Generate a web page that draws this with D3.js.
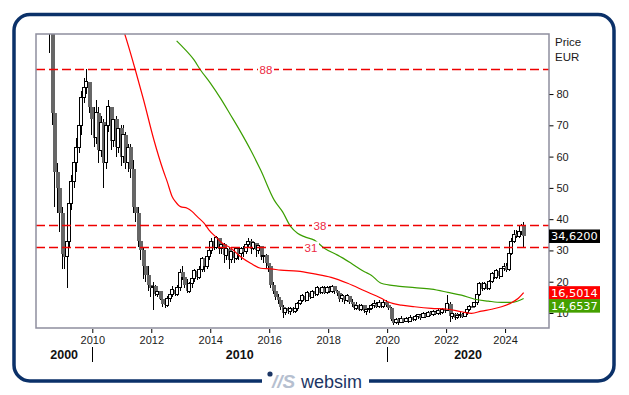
<!DOCTYPE html>
<html>
<head>
<meta charset="utf-8">
<script src="https://cdn.jsdelivr.net/npm/d3@7"></script>
<style>
body { margin: 0; background: #fff; }
svg { font-family: "Liberation Sans", Arial, sans-serif; }
</style>
</head>
<body>
<svg id="chart" width="629" height="395"></svg>
<script>
//monthly candles, first one is July 2008
var startYear = 2008, startMonth = 7;
var firstOpen = 112;

var closes = [
	103, 74, 55, 50, 42, 29,
	28, 33, 45, 52, 58, 63, 70, 79, 82, 84, 76, 72,
	66, 74, 62, 71, 58, 70, 76, 65, 72, 63, 69, 60,
	67, 58, 63, 56, 44, 42, 33, 30, 25, 22, 19, 18,
	18.5, 16, 17, 14.5, 13, 12.5, 14.5, 16, 17.5, 16, 18, 23,
	21.5, 19, 17, 19.5, 21, 23.5, 21.5, 24, 27.5, 25, 28, 30,
	33, 31, 34, 30.5, 32, 28.5, 30.5, 27, 29.5, 27.5, 30.5, 29,
	30.5, 29.5, 32, 33, 30.5, 32.5, 30, 31.5, 28, 28.5, 26, 25,
	19, 17, 15, 14, 12, 10, 11.5, 10.5, 11.5, 10.5, 11.5, 13,
	14, 15.5, 14, 16.5, 15, 17, 16, 18, 16.5, 18, 16.5, 18,
	17, 18.5, 17, 16.5, 14.5, 15.5, 14, 15.5, 13.5, 13, 11.5, 12.5,
	11, 12.5, 10.5, 11, 11.5, 12.5, 13, 12, 13.5, 12, 13.5, 12.5,
	11.5, 8, 6.8, 8, 7, 8.3, 7.2, 8.2, 7.4, 8.7, 7.8, 8.8,
	9.4, 8.4, 9.8, 8.8, 10.2, 9.4, 10.4, 9.8, 10.8, 10, 11.2, 10.8,
	13, 9, 9.8, 8.4, 9.3, 9.6, 8.8, 10, 11, 12.2, 12, 13.2,
	16, 19.5, 17.8, 19.4, 17.8, 20.2, 22.5, 21.5, 23.5, 21.8, 24.2, 25,
	23.8, 29, 33, 35.2, 34.5, 36, 38, 34.62
];
var highs = [
	118, 104, 76, 58, 52, 44,
	34, 36, 47, 54, 60, 66, 72, 81, 85, 88, 84, 79,
	76, 78, 76, 73, 72, 72, 78, 76, 75, 73, 72, 70,
	70, 68, 64, 64, 59, 47, 44, 35, 31, 28, 25, 21,
	20, 19, 18, 17, 16, 14, 15.5, 17, 18.5, 18, 19, 24,
	25, 23, 21, 20, 22, 24, 24, 25, 28, 27.5, 29, 31,
	34, 34, 34.5, 34, 33, 32.5, 31, 31, 30, 30, 31, 31,
	31, 31.5, 33, 34, 33.5, 33, 32.5, 32, 31.5, 30, 29, 27,
	25.5, 20, 18, 16, 15, 12.5, 12, 12, 12, 12, 12, 13.5,
	14.5, 16, 15.5, 17, 16.5, 17.5, 17.5, 18.5, 18, 18.5, 18.5, 18.5,
	18.5, 18.8, 18.5, 17.5, 17, 16, 15.5, 16, 15.5, 14.5, 13.5, 13.5,
	13, 13, 12.5, 11.5, 12, 13, 14, 13.5, 14, 13.5, 14, 14,
	13, 12, 8.5, 8.5, 8.5, 9, 8.5, 8.7, 8.5, 9.2, 9, 9.3,
	9.8, 9.6, 10.2, 10, 10.6, 10.5, 10.8, 10.6, 11.2, 11, 11.6, 11.5,
	15.7, 13.5, 10.5, 10, 10, 10.2, 10, 10.5, 11.5, 12.6, 13, 13.6,
	16.5, 20, 20, 19.8, 19.5, 20.5, 23, 23.5, 24, 24, 24.5, 26,
	26, 29.5, 34, 36.5, 36.5, 37.5, 38.5, 39
];
var lows = [
	93, 70, 44, 42, 36, 24,
	24, 18, 31, 43, 50, 55, 61, 67, 77, 80, 74, 67,
	63, 64, 58, 60, 50, 56, 68, 62, 63, 60, 61, 57,
	58, 56, 55, 53, 42, 39, 31, 27, 21, 20, 17, 15,
	11, 15.5, 15, 14, 12, 11.5, 12, 13.5, 15, 15.5, 15.5, 17,
	20.5, 18, 16.5, 16.5, 18, 20, 20.5, 21, 23, 23, 24, 27,
	29, 30, 30.5, 29, 29, 26, 27, 24, 26, 26, 27, 27,
	27, 28, 29, 31, 29, 30, 28, 29, 27, 26, 24.5, 23,
	18, 16, 14, 13, 11, 8.4, 9.5, 9.8, 9.5, 10, 10, 10.5,
	12.5, 13.5, 13.5, 14, 14.5, 15, 15.5, 15.5, 16, 16, 16, 16,
	16.5, 16.5, 16, 15.5, 13.5, 13.5, 13, 13.5, 13, 12, 11, 11,
	10.5, 10.5, 10, 9.3, 10, 11, 11.5, 11.5, 11.5, 11.5, 11.5, 12,
	11, 7.5, 6, 6.5, 6.3, 6.8, 6.8, 7, 6.8, 7.2, 7.3, 7.5,
	8, 7.8, 8.3, 8.5, 8.6, 9, 9, 9.5, 9.5, 9.5, 9.8, 10,
	10.5, 7.1, 8, 7.8, 8, 8.5, 8.3, 8.7, 9.5, 10.5, 11.5, 12,
	12.5, 15.5, 17, 17.5, 17.3, 17.5, 19.5, 21, 21, 21, 21.5, 23.5,
	23, 23.5, 28.5, 32.5, 34, 34, 35, 30.8
];

var redDates = [2011.02, 2011.10, 2011.46, 2011.74, 2012.09, 2012.40, 2012.54, 2012.71, 2012.82, 2012.99,
	2013.22, 2013.39, 2013.56, 2013.79, 2013.96, 2014.18, 2014.41, 2014.69, 2015.03, 2015.37, 2015.71,
	2016.05, 2016.39, 2016.96, 2017.53, 2018.10, 2018.66, 2019.23, 2019.80, 2020.02, 2020.48, 2020.93,
	2021.50, 2022.06, 2022.52, 2022.86, 2023.20, 2023.54, 2023.88, 2024.22, 2024.45, 2024.63];
var redValues = [101.5, 99.2, 87.7, 78.1, 65.3, 55.7, 52.0, 47.2, 45.6, 44.0,
	43.5, 42.4, 40.8, 38.7, 36.5, 34.4, 32.3, 30.8, 28.0, 25.9, 24.3,
	24.1, 23.7, 23.4, 22.5, 21.4, 19.5, 17.1, 14.7, 13.6, 12.5, 12.0,
	11.5, 11.2, 10.4, 9.9, 10.6, 11.2, 12.0, 13.3, 14.7, 16.5014];
var greenDates = [2012.86, 2013.11, 2013.45, 2013.67, 2014.01, 2014.35, 2014.69, 2015.03, 2015.37, 2015.71,
	2016.17, 2016.45, 2016.73, 2016.96, 2017.19, 2017.53, 2017.87, 2018.32, 2018.78, 2019.23, 2019.46,
	2019.80, 2020.36, 2020.93, 2021.50, 2022.06, 2022.52, 2022.97, 2023.43, 2023.88, 2024.22, 2024.63];
var greenValues = [97.0, 94.6, 90.9, 87.7, 83.4, 78.6, 73.3, 67.9, 62.1, 55.7,
	46.1, 42.4, 37.6, 35.5, 34.4, 33.3, 30.7, 28.5, 25.9, 23.2, 22.1,
	19.5, 18.6, 18.1, 17.6, 16.6, 15.7, 14.4, 13.8, 13.4, 13.4, 14.6537];

var levels = [88, 38, 31];
var yTicks = [10, 20, 30, 40, 50, 60, 70, 80];
var xTicks = [2010, 2012, 2014, 2016, 2018, 2020, 2022, 2024];
var decades = [2000, 2010, 2020];


var svg = d3.select("#chart");
var plotL = 36, plotR = 549, plotT = 34, plotB = 328;

var x = d3.scaleLinear().domain([2008.09, 2025.49]).range([plotL, plotR]);
var y = d3.scaleLinear().domain([5.2, 99.2]).range([plotB, plotT]);

function fmt(v) {
	return d3.format(".4f")(v).replace(".", ",");
}

var candles = closes.map(function(c, i) {
	return {
		date: startYear + (startMonth - 1 + i + 0.5) / 12,
		open: i == 0 ? firstOpen : closes[i - 1],
		high: highs[i], low: lows[i], close: c
	};
});

//outer frame with the logo cut into the bottom edge
svg.append("rect")
	.attr("x", 14).attr("y", 14.5)
	.attr("width", 600).attr("height", 366.5)
	.attr("rx", 16)
	.attr("fill", "none")
	.attr("stroke", "#0b3169")
	.attr("stroke-width", 3.5);
svg.append("rect")
	.attr("x", 262).attr("y", 375)
	.attr("width", 107).attr("height", 12)
	.attr("fill", "#fff");
svg.append("circle")
	.attr("cx", 270).attr("cy", 374).attr("r", 2.6)
	.attr("fill", "#1b3564");
svg.append("text")
	.attr("x", 272).attr("y", 388)
	.attr("font-size", 19).attr("font-style", "italic").attr("font-weight", "bold")
	.attr("fill", "#b6c0d0")
	.text("//S");
svg.append("text")
	.attr("x", 301).attr("y", 388)
	.attr("font-size", 18)
	.attr("fill", "#1b3564")
	.text("websim");

svg.append("defs").append("clipPath").attr("id", "plotclip")
	.append("rect")
	.attr("x", plotL).attr("y", plotT)
	.attr("width", plotR - plotL).attr("height", plotB - plotT);

var g = svg.append("g").attr("clip-path", "url(#plotclip)");

//candles: wick first, body on top
var cg = g.append("g").attr("shape-rendering", "crispEdges");
cg.selectAll("line.wick")
	.data(candles)
	.enter().append("line")
	.attr("class", "wick")
	.attr("x1", function(d) { return Math.round(x(d.date)) + 0.5; })
	.attr("x2", function(d) { return Math.round(x(d.date)) + 0.5; })
	.attr("y1", function(d) { return y(d.high); })
	.attr("y2", function(d) { return y(d.low); })
	.attr("stroke", "#000")
	.attr("stroke-width", 1);

cg.selectAll("rect.body")
	.data(candles)
	.enter().append("rect")
	.attr("class", "body")
	.attr("x", function(d) { return Math.round(x(d.date)) - (d.close >= d.open ? 1.5 : 1); })
	.attr("width", function(d) { return d.close >= d.open ? 3 : 4; })
	.attr("y", function(d) { return y(Math.max(d.open, d.close)); })
	.attr("height", function(d) { return Math.max(1.5, Math.abs(y(d.open) - y(d.close))); })
	.attr("fill", function(d) { return d.close >= d.open ? "#fff" : "#666"; })
	.attr("stroke", function(d) { return d.close >= d.open ? "#000" : "none"; })
	.attr("stroke-width", 1);

//moving averages
var maLine = d3.line()
	.x(function(d) { return x(d[0]); })
	.y(function(d) { return y(d[1]); })
	.curve(d3.curveMonotoneX);

g.append("path")
	.datum(d3.zip(greenDates, greenValues))
	.attr("d", maLine)
	.attr("fill", "none")
	.attr("stroke", "#3a9e00")
	.attr("stroke-width", 1.2);
g.append("path")
	.datum(d3.zip(redDates, redValues))
	.attr("d", maLine)
	.attr("fill", "none")
	.attr("stroke", "#ff0000")
	.attr("stroke-width", 1.2);

//horizontal levels
var labelX = {88: 266, 38: 320, 31: 311};
levels.forEach(function(v) {
	var yy = Math.round(y(v)) + 0.5;
	g.append("line")
		.attr("x1", plotL).attr("x2", plotR)
		.attr("y1", yy).attr("y2", yy)
		.style("stroke", "#ee0000")
		.style("stroke-width", 1.5)
		.style("stroke-dasharray", "9,4");
	g.append("rect")
		.attr("x", labelX[v] - 8).attr("y", yy - 6)
		.attr("width", 16).attr("height", 12)
		.attr("fill", "#fff");
	g.append("text")
		.attr("x", labelX[v]).attr("y", yy)
		.attr("dy", "0.36em")
		.attr("text-anchor", "middle")
		.attr("font-size", 11.5)
		.attr("fill", "#ec2a44")
		.text(v);
});

//plot frame
svg.append("rect")
	.attr("x", plotL).attr("y", plotT)
	.attr("width", plotR - plotL).attr("height", plotB - plotT)
	.attr("fill", "none")
	.attr("stroke", "#8e8e9e")
	.attr("stroke-width", 1.5);

//axes
var yAxis = d3.axisRight(y).tickValues(yTicks).tickSize(4).tickPadding(3);
var ya = svg.append("g")
	.attr("transform", "translate(" + (plotR + 0.5) + ",0)")
	.call(yAxis);
ya.select(".domain").remove();
ya.selectAll("text").attr("font-size", 11).attr("fill", "#1a1a1a").attr("font-family", null);

var xAxis = d3.axisBottom(x).tickValues(xTicks).tickFormat(d3.format("d")).tickSize(4).tickPadding(3);
var xa = svg.append("g")
	.attr("transform", "translate(0," + (plotB + 1) + ")")
	.call(xAxis);
xa.select(".domain").remove();
xa.selectAll("text").attr("font-size", 11).attr("fill", "#1a1a1a").attr("font-family", null);

decades.forEach(function(dec) {
	var a = Math.max(x(dec), plotL), b = Math.min(x(dec + 10), plotR);
	svg.append("text")
		.attr("x", (a + b) / 2).attr("y", 359)
		.attr("text-anchor", "middle")
		.attr("font-size", 12.5).attr("font-weight", "bold")
		.attr("fill", "#111")
		.text(dec);
	if (x(dec) > plotL) {
		svg.append("line")
			.attr("x1", Math.round(x(dec)) + 0.5).attr("x2", Math.round(x(dec)) + 0.5)
			.attr("y1", 347).attr("y2", 362)
			.attr("stroke", "#000");
	}
});

svg.append("text").attr("x", 555).attr("y", 46).attr("font-size", 11.5).attr("fill", "#1a1a1a").text("Price");
svg.append("text").attr("x", 555).attr("y", 61).attr("font-size", 11.5).attr("fill", "#1a1a1a").text("EUR");

//last value boxes
var lastClose = closes[closes.length - 1];
var redLast = redValues[redValues.length - 1];
var greenLast = greenValues[greenValues.length - 1];
var boxes = [
	{v: lastClose, top: y(lastClose) - 6.5, fill: "#000"},
	{v: redLast, top: y(redLast) - 6.5, fill: "#ff0000"},
	{v: greenLast, top: y(redLast) + 6.5, fill: "#44a000"}
];
boxes.forEach(function(b) {
	svg.append("rect")
		.attr("x", plotR).attr("y", b.top)
		.attr("width", 51).attr("height", 13.5)
		.attr("fill", b.fill);
	svg.append("text")
		.attr("x", plotR + 2).attr("y", b.top + 6.75)
		.attr("dy", "0.36em")
		.attr("font-family", "DejaVu Sans")
		.attr("font-size", 11.3)
		.attr("fill", "#fff")
		.text(fmt(b.v));
});
</script>
</body>
</html>
